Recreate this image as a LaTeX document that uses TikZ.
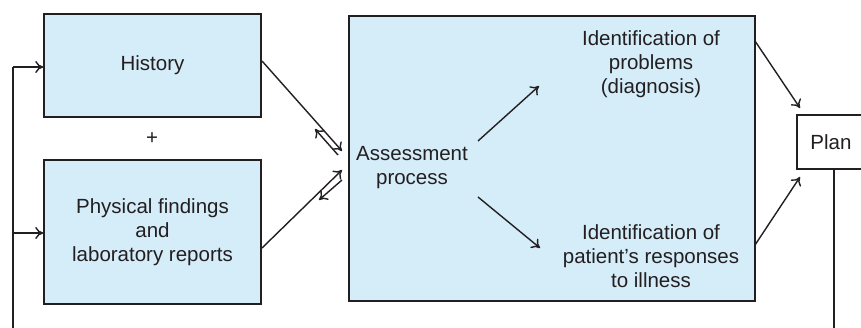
\documentclass[tikz,border=0pt]{standalone}
\usepackage{fontspec}
\setmainfont{Liberation Sans}
\usetikzlibrary{arrows.meta}
\definecolor{panel}{HTML}{D5ECF9}
\definecolor{ink}{HTML}{231F20}
\begin{document}
\begin{tikzpicture}[x=1pt,y=-1pt,
  font=\fontsize{20.5}{24}\selectfont,
  line width=1.4pt, draw=ink, text=ink,
  box/.style={draw=ink, fill=panel, line width=1.5pt, inner sep=0pt},
  lbl/.style={align=center, inner sep=0pt},
  arr/.style={-{To[length=8pt,width=12pt,line width=1.4pt]}, ink, line width=1.4pt},
  wire/.style={ink, line width=1.4pt}]
\useasboundingbox (0,0) rectangle (861,328);

% input boxes
\node[box, minimum width=217pt, minimum height=103pt] (hist) at (152.5,65.5) {History};
\node[lbl] (plus) at (152,139) {+};
\node[box, minimum width=217pt, minimum height=144pt, align=center] (phys) at (152.5,232)
  {Physical findings\\and\\laboratory reports};

% assessment panel
\node[box, minimum width=406pt, minimum height=285pt] (assess) at (552,158.5) {};
\node[lbl] (asstext) at (412,168) {Assessment\\process};
\node[lbl] (prob) at (651,64) {Identification of\\problems\\(diagnosis)};
\node[lbl] (resp) at (651,256) {Identification of\\patient’s responses\\to illness};

% plan box (runs past the right edge)
\node[draw=ink, fill=white, line width=1.5pt, minimum width=74pt, minimum height=54pt, inner sep=0pt] (plan) at (834,142) {};
\node[lbl] (plantext) at (831,142) {Plan};

% exchange between inputs and assessment
\coordinate (h1) at (262,61);
\coordinate (h2) at (342,151);
\coordinate (h3) at (338,155);
\coordinate (h4) at (315,129);
\coordinate (p1) at (262,248);
\coordinate (p2) at (342,170);
\coordinate (p3) at (342,180);
\coordinate (p4) at (319,200);
\draw[arr] (h1) -- (h2);
\draw[arr] (h3) -- (h4);
\draw[arr] (p1) -- (p2);
\draw[arr] (p3) -- (p4);

% assessment to its two outcomes
\coordinate (a1) at (478,141);
\coordinate (a2) at (539,86);
\coordinate (a3) at (478,197);
\coordinate (a4) at (540,248);
\draw[arr] (a1) -- (a2);
\draw[arr] (a3) -- (a4);

% outcomes to plan
\coordinate (o1) at (755,41);
\coordinate (o2) at (800,108);
\coordinate (o3) at (755,245);
\coordinate (o4) at (800,177);
\draw[arr] (o1) -- (o2);
\draw[arr] (o3) -- (o4);

% feedback loop
\coordinate (fbR) at (834,332);
\coordinate (fbL) at (13,332);
\coordinate (fbH) at (13,67);
\coordinate (fbP) at (13,233);
\draw[wire] (plan.south -| fbR) -- (fbR);
\draw[wire] (fbL) -- (fbH);
\draw[arr] (fbH) -- (fbH -| hist.west);
\draw[arr] (fbP) -- (fbP -| phys.west);
\end{tikzpicture}
\end{document}
